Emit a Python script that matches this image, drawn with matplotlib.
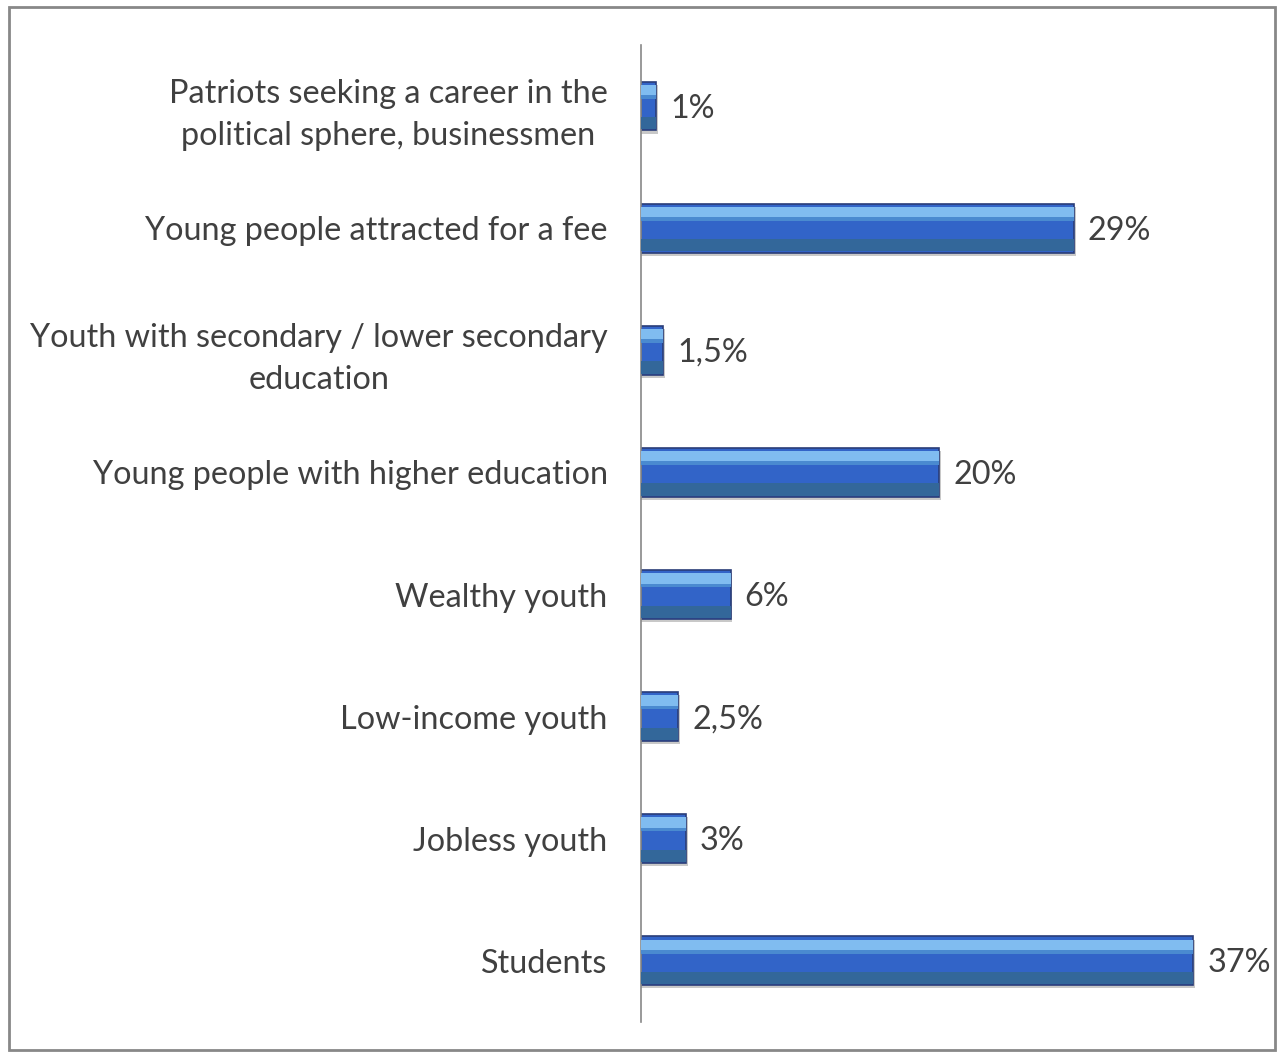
import matplotlib.pyplot as plt
from matplotlib.patches import Rectangle

categories = [
    'Patriots seeking a career in the\npolitical sphere, businessmen',
    'Young people attracted for a fee',
    'Youth with secondary / lower secondary\neducation',
    'Young people with higher education',
    'Wealthy youth',
    'Low-income youth',
    'Jobless youth',
    'Students',
]
values = [1, 29, 1.5, 20, 6, 2.5, 3, 37]
value_labels = ['1%', '29%', '1,5%', '20%', '6%', '2,5%', '3%', '37%']

plt.rcParams['font.family'] = ['Lato', 'DejaVu Sans']

fig = plt.figure(figsize=(12.81, 10.54), dpi=100)
ax = fig.add_axes([0.5004, 0.0304, 0.466, 0.9269])

n = len(categories)
ypos = list(range(n))[::-1]  # first category at top
h = 0.4
fs = 23.3

# shadow
ax.barh([y - 0.025 for y in ypos], [v + 0.12 for v in values], height=h,
        color='#c8c8c8', zorder=1)
# main bar
ax.barh(ypos, values, height=h, color='#3264c8', edgecolor='#2a3d78',
        linewidth=1.2, zorder=2)
# bottom darker band
ax.barh([y - h / 2 + 0.06 for y in ypos], values, height=0.1,
        color='#33679a', zorder=3)
# top highlight band
ax.barh([y + h / 2 - 0.07 for y in ypos], values, height=0.09,
        color='#80bcf0', zorder=3)
ax.barh([y + h / 2 - 0.125 for y in ypos], values, height=0.03,
        color='#4a8ad0', zorder=3)

for y, v, lab in zip(ypos, values, value_labels):
    ax.text(v + 0.95, y - 0.02, lab, va='center', ha='left', fontsize=fs,
            color='#404040')

ax.set_yticks(ypos)
ax.set_yticklabels(categories, fontsize=fs, color='#404040',
                   multialignment='center', linespacing=1.5)
ax.tick_params(axis='y', length=0, pad=24)
ax.set_xticks([])
ax.set_xlim(0, 40)
ax.set_ylim(-0.5, n - 0.5)
for s in ['top', 'right', 'bottom']:
    ax.spines[s].set_visible(False)
ax.spines['left'].set_color('#888888')
ax.spines['left'].set_linewidth(1.2)

# outer chart frame
fig.patches.append(Rectangle((9 / 1281, 4 / 1054), 1266 / 1281, 1043 / 1054,
                             transform=fig.transFigure, fill=False,
                             edgecolor='#888888', linewidth=2))

fig.savefig('out.png', dpi=100)
